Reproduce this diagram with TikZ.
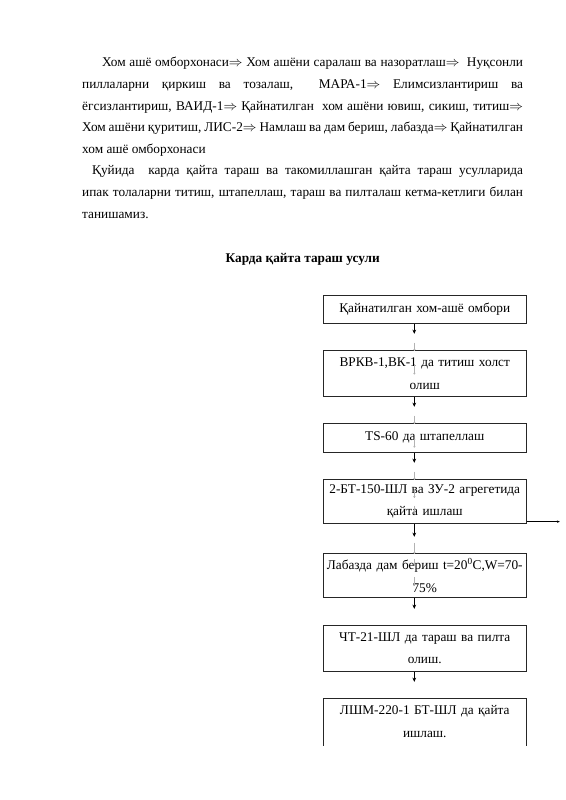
\documentclass[tikz,border=0pt]{standalone}
\usepackage{fontspec}
\setmainfont{Liberation Serif}
\usetikzlibrary{arrows.meta}

\begin{document}
\begin{tikzpicture}[x=1.0531pt, y=-1.0525pt,
    stage/.style={draw=black!85, line width=0.6pt, anchor=north, align=center,
      text width=213pt, inner xsep=0.4pt, inner ysep=2pt,
      font=\fontsize{14pt}{24pt}\selectfont},
    flow/.style={-{Stealth[length=4.5pt,width=4pt]}, line width=0.8pt},
    ghost/.style={-{Straight Barb[length=1.6pt,width=2.4pt]}, gray!60, line width=0.3pt}]

    \useasboundingbox (0,0) rectangle (565,800);

    % The text above the scheme
    \node[anchor=north west, inner sep=0pt, text width=464pt, align=justify,
          font=\fontsize{14pt}{22.75pt}\selectfont] (intro) at (82,51.6) {%
        \noindent\strut\hspace*{21pt}Хом ашё омборхонаси$\Rightarrow$ Хом ашёни саралаш ва назоратлаш$\Rightarrow$\ \ Нуқсонли\linebreak
        пиллаларни қиркиш ва тозалаш,\ \ МАРА-1$\Rightarrow$ Елимсизлантириш ва\linebreak
        ёгсизлантириш, ВАИД-1$\Rightarrow$ Қайнатилган\ \ хом ашёни ювиш, сикиш, титиш$\Rightarrow$\linebreak
        Хом ашёни қуритиш, ЛИС-2$\Rightarrow$ Намлаш ва дам бериш, лабазда$\Rightarrow$ Қайнатилган\linebreak
        хом ашё омборхонаси\par
        \noindent\hspace*{10.5pt}Қуйида\ \ карда қайта тараш ва такомиллашган қайта тараш усулларида\linebreak
        ипак толаларни титиш, штапеллаш, тараш ва пилталаш кетма-кетлиги билан\linebreak
        танишамиз.\par};

    % The title
    \node[anchor=base, font=\fontsize{14pt}{17pt}\selectfont\bfseries] (title) at (302.5,262) {Карда қайта тараш усули};

    % The boxes of the scheme
    \node[stage, minimum height=29.5pt] (b1) at (424.5,295) {Қайнатилган хом-ашё омбори};
    \node[stage, minimum height=48.4pt] (b2) at (424.5,350) {ВРКВ-1,ВК-1 да титиш холст\\олиш};
    \node[stage, minimum height=30.5pt] (b3) at (424.5,423) {TS-60 да штапеллаш};
    \node[stage, minimum height=46.3pt] (b4) at (424.5,479) {2-БТ-150-ШЛ ва ЗУ-2 агрегетида\\қайта ишлаш};
    \node[stage, minimum height=46.3pt] (b5) at (424.5,553) {Лабазда дам бериш t=20\textsuperscript{0}C,W=70-\\75\%};
    \node[stage, minimum height=48.4pt] (b6) at (424.5,625) {ЧТ-21-ШЛ да тараш ва пилта\\олиш.};
    \node[stage, draw=none, minimum height=49.5pt] (b7) at (424.5,698) {ЛШМ-220-1 БТ-ШЛ да қайта\\ишлаш.};
    \draw[black!85, line width=0.6pt] (b7.south west) -- (b7.north west) -- (b7.north east) -- (b7.south east);

    % The arrows between the boxes
    \foreach \a/\b in {b1/b2,b2/b3,b3/b4,b4/b5,b5/b6,b6/b7}
        \draw[flow, shorten >=17pt] ([xshift=-11pt]\a.south) -- ([xshift=-11pt]\b.north);
    \foreach \a/\b in {b1/b2,b2/b3,b3/b4,b4/b5}
        \draw[ghost, shorten <=20pt, shorten >=-1pt] ([xshift=-11pt]\a.south) -- ([xshift=-11pt]\b.north);
    \foreach \a/\s/\e in {b2/15/23,b3/17/5,b4/11/27,b4/28/10,b5/6/33,b5/25/12}
        \draw[ghost, shorten <=\s pt, shorten >=\e pt] ([xshift=-11pt]\a.north) -- ([xshift=-11pt]\a.south);

    % The way out of the fourth box
    \coordinate (waste) at ([xshift=35pt,yshift=2pt]b4.south east);
    \draw[-{Stealth[length=3pt,width=2.5pt]}, line width=0.6pt] ([yshift=2pt]b4.south east) -- (waste);
\end{tikzpicture}
\end{document}
